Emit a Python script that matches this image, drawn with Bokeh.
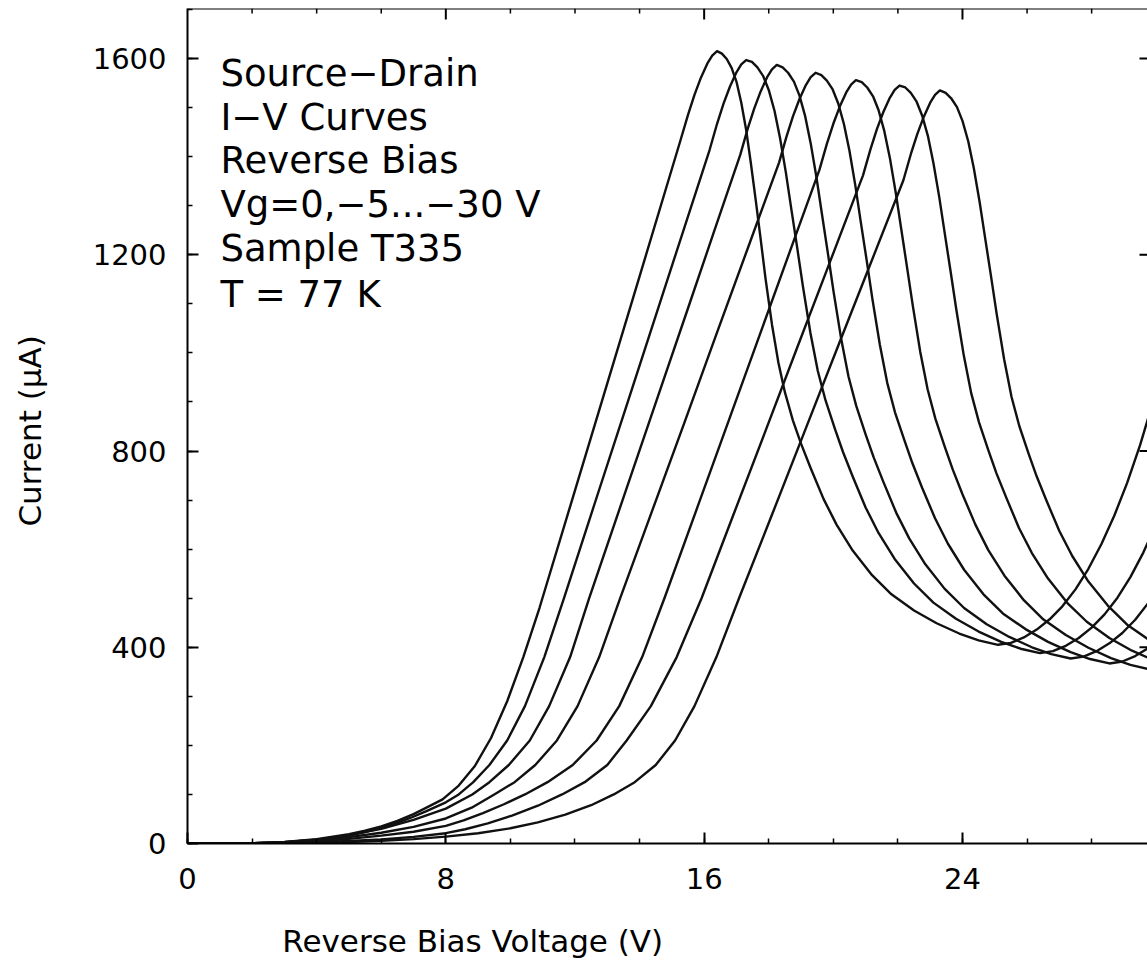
from bokeh.plotting import figure
from bokeh.layouts import column
from bokeh.models import Range1d, SingleIntervalTicker, Label, Span
from bokeh.embed import file_html
from bokeh.resources import INLINE

# ---------------- data ----------------
gate_voltages = [0, -5, -10, -15, -20, -25, -30]

# Vg = 0 V
V_0 = [0, 1, 2, 3, 4, 5, 5.5, 6.0, 6.5, 7.0, 7.4, 7.9, 8.4, 8.9, 9.4, 9.9, 10.4, 10.9, 11.9, 12.9, 13.9, 15.27,
       15.5, 15.7, 15.9, 16.1, 16.25, 16.4, 16.55, 16.7, 16.85, 17.0, 17.15, 17.3, 17.45, 17.6, 17.75, 17.9,
       18.1, 18.3, 18.5, 18.75, 19.0, 19.3, 19.7, 20.1, 20.6, 21.2, 21.8, 22.5, 23.2, 23.9, 24.5, 25.1,
       25.5, 25.9, 26.3, 26.7, 27.1, 27.5, 27.9, 28.3, 28.7, 29.1, 29.5, 29.9, 30.0]
I_0 = [0, 0, 0.5, 3, 9, 19, 26, 35, 46, 60, 73, 90, 118, 158, 215, 290, 380, 480, 698, 916, 1134, 1434,
       1485, 1526, 1561, 1590, 1606, 1615, 1610, 1599, 1581, 1553, 1510, 1455, 1385, 1310, 1232, 1152,
       1058, 980, 920, 862, 815, 765, 702, 650, 597, 547, 508, 475, 449, 428, 414, 405,
       409, 420, 436, 457, 484, 518, 560, 610, 668, 735, 812, 900, 922]

# Vg = -5 V
V_5 = [0, 1, 2, 3, 4, 5, 5.4, 5.9, 6.4, 6.9, 7.4, 8.0, 8.4, 8.85, 9.35, 9.9, 10.45, 11.05, 11.66, 12.6,
       13.6, 14.6, 15.4, 16.17, 16.4, 16.6, 16.8, 17.0, 17.15, 17.3,
       17.48, 17.65, 17.83, 18.0, 18.18, 18.35, 18.53, 18.7, 18.88, 19.06, 19.29, 19.52, 19.76, 20.05,
       20.3, 20.6, 21.0, 21.4, 21.9, 22.5, 23.1, 23.8, 24.5, 25.2, 25.8, 26.4, 26.8, 27.2, 27.6, 28.0,
       28.4, 28.8, 29.2, 29.6, 30.0]
I_5 = [0, 0, 0.5, 2.7, 8, 16, 22, 30, 40, 52, 66, 84, 100, 125, 160, 210, 280, 380, 500, 691,
       893, 1096, 1258, 1414, 1467, 1508, 1543, 1572, 1588, 1597,
       1593, 1582, 1564, 1536, 1493, 1438, 1368, 1293, 1215, 1135, 1041, 963, 903, 845,
       798, 748, 685, 633, 580, 530, 491, 458, 432, 411, 397, 388, 392, 403, 419, 440,
       467, 501, 543, 593, 651]

# Vg = -10 V
V_10 = [0, 1, 2, 3, 4, 5, 6, 7, 8, 8.82, 9.35, 9.95, 10.6, 11.2, 11.85, 12.44, 13.5, 14.5, 15.5, 16.3,
        17.12, 17.35, 17.55, 17.75, 17.95, 18.1, 18.25,
        18.43, 18.6, 18.78, 18.95, 19.13, 19.3, 19.48, 19.65, 19.83, 20.01, 20.24, 20.47, 20.71, 21.0,
        21.25, 21.55, 21.95, 22.35, 22.85, 23.45, 24.05, 24.75, 25.45, 26.15, 26.75, 27.35, 27.75, 28.15,
        28.55, 28.95, 29.35, 29.75, 30.15]
I_10 = [0, 0, 0.5, 2.5, 8, 17, 30, 48, 71, 100, 125, 160, 210, 280, 380, 500, 705, 898, 1091, 1246,
        1404, 1457, 1498, 1533, 1562, 1578, 1587,
        1582, 1571, 1553, 1525, 1482, 1427, 1357, 1282, 1204, 1124, 1030, 952, 892, 834,
        787, 737, 674, 622, 569, 519, 480, 447, 421, 400, 386, 377, 381, 392,
        408, 429, 456, 490, 532]

# Vg = -15 V
V_15 = [0, 1, 2, 3, 4, 5, 6, 7, 8, 8.8, 9.5, 10.13, 10.77, 11.44, 12.08, 12.75, 13.4, 14.4, 15.4, 16.4,
        17.4, 18.32, 18.55, 18.75, 18.95, 19.15, 19.3, 19.45,
        19.63, 19.8, 19.98, 20.15, 20.33, 20.5, 20.68, 20.85, 21.03, 21.21, 21.44, 21.67, 21.91, 22.2,
        22.45, 22.75, 23.15, 23.55, 24.05, 24.65, 25.25, 25.95, 26.65, 27.35, 27.95, 28.55, 28.95, 29.35,
        29.75, 30.15]
I_15 = [0, 0, 0.4, 2, 6, 13, 22, 34, 51, 73, 100, 125, 160, 210, 280, 380, 500, 680, 860, 1042,
        1222, 1388, 1441, 1482, 1517, 1546, 1562, 1571,
        1566, 1555, 1537, 1509, 1466, 1412, 1342, 1267, 1190, 1110, 1017, 939, 879, 822,
        775, 725, 663, 611, 558, 508, 469, 437, 411, 390, 376, 367, 371, 382,
        398, 419]

# Vg = -20 V
V_20 = [0, 1, 2, 3, 4, 5, 6, 7, 8, 8.55, 9.15, 9.8, 10.45, 11.15, 11.93, 12.67, 13.37, 14.08, 14.77, 15.8,
        16.8, 17.8, 18.7, 19.57, 19.8, 20.0, 20.2, 20.4, 20.55, 20.7,
        20.88, 21.05, 21.23, 21.4, 21.58, 21.75, 21.93, 22.1, 22.28, 22.46, 22.69, 22.92, 23.16, 23.45,
        23.7, 24.0, 24.4, 24.8, 25.3, 25.9, 26.5, 27.2, 27.9, 28.6, 29.2, 29.8, 30.2]
I_20 = [0, 0, 0.3, 1.5, 4.5, 9.5, 16, 24, 36, 47, 62, 80, 100, 125, 160, 210, 280, 380, 500, 687,
        869, 1051, 1215, 1373, 1426, 1467, 1502, 1531, 1547, 1556,
        1552, 1541, 1523, 1495, 1452, 1398, 1328, 1254, 1176, 1097, 1003, 926, 866, 809,
        762, 712, 650, 598, 546, 496, 457, 425, 399, 378, 364, 355, 359]

# Vg = -25 V
V_25 = [0, 1, 2, 3, 4, 5, 6, 7, 8, 8.6, 9.3, 10.05, 10.85, 11.6, 12.3, 13.0, 13.6, 14.35, 15.15, 15.92,
        16.9, 17.9, 18.9, 19.9, 20.92, 21.15, 21.35, 21.55, 21.75, 21.9, 22.05,
        22.23, 22.4, 22.58, 22.75, 22.93, 23.1, 23.28, 23.45, 23.63, 23.81, 24.04, 24.27, 24.51, 24.8,
        25.05, 25.35, 25.75, 26.15, 26.65, 27.25, 27.85, 28.55, 29.25, 29.95]
I_25 = [0, 0, 0.2, 0.8, 2.5, 5, 8.5, 13.5, 21, 29, 41, 57, 77, 100, 125, 160, 210, 280, 380, 500,
        669, 841, 1014, 1186, 1362, 1415, 1456, 1491, 1520, 1536, 1545,
        1541, 1530, 1512, 1484, 1442, 1387, 1318, 1244, 1167, 1088, 995, 918, 859, 802,
        755, 706, 643, 592, 540, 490, 452, 419, 393, 373]

# Vg = -30 V
V_30 = [0, 1, 2, 3, 4, 5, 6, 7, 8, 9, 10, 10.85, 11.7, 12.5, 13.2, 13.85, 14.5, 15.1, 15.7, 16.38,
        17.08, 18.1, 19.1, 20.1, 21.1, 22.17, 22.4, 22.6, 22.8, 23.0, 23.15, 23.3,
        23.48, 23.65, 23.83, 24.0, 24.18, 24.35, 24.53, 24.7, 24.88, 25.06, 25.29, 25.52, 25.76, 26.05,
        26.3, 26.6, 27.0, 27.4, 27.9, 28.5, 29.1, 29.8, 30.5]
I_30 = [0, 0, 0.1, 0.5, 1.5, 3, 5.5, 9, 14, 21, 31, 43, 59, 78, 100, 125, 160, 210, 280, 380,
        500, 670, 838, 1006, 1173, 1352, 1405, 1446, 1481, 1510, 1526, 1535,
        1530, 1519, 1501, 1473, 1431, 1377, 1308, 1235, 1158, 1079, 987, 910, 851, 794,
        748, 699, 637, 586, 534, 485, 446, 414, 388]

curves_v = [V_0, V_5, V_10, V_15, V_20, V_25, V_30]
curves_i = [I_0, I_5, I_10, I_15, I_20, I_25, I_30]

info_lines = ["Source\u2212Drain", "I\u2212V  Curves", "Reverse  Bias",
              "Vg=0,\u22125...\u221230  V", "Sample  T335", "T  =  77  K"]
x_label = "Reverse  Bias  Voltage  (V)"
y_label = "Current  (\u03bcA)"

# tick values for the top and right frame edges
top_minor_ticks = [2, 4, 6, 10, 12, 14, 18, 20, 22, 26, 28]
top_major_ticks = [8, 16, 24]
right_major_ticks = [400, 800, 1200, 1600]

# ---------------- main figure ----------------
FONT = "DejaVu Sans"
X_END = 29.73
Y_END = 1702
PX_PER_Y = 835.0 / Y_END
PX_PER_X = 960.0 / X_END
LEFT = 187

p = figure(width=1147, height=920, x_range=Range1d(0, X_END), y_range=Range1d(0, Y_END),
           output_backend="svg", toolbar_location=None,
           min_border_left=LEFT, min_border_right=0, min_border_top=8, min_border_bottom=77)
p.outline_line_color = None
p.xgrid.visible = False
p.ygrid.visible = False
p.background_fill_color = "white"
p.border_fill_color = "white"


def style_axis(ax):
    ax.axis_line_width = 2
    ax.axis_line_color = "black"
    ax.major_tick_in = 11
    ax.major_tick_out = 0
    ax.minor_tick_in = 5
    ax.minor_tick_out = 0
    ax.major_tick_line_width = 2
    ax.minor_tick_line_width = 1.5
    ax.major_tick_line_color = "black"
    ax.minor_tick_line_color = "black"
    ax.major_label_text_font = FONT
    ax.major_label_text_font_size = "29px"
    ax.major_label_text_color = "black"


bx = p.xaxis[0]
bx.ticker = SingleIntervalTicker(interval=8, num_minor_ticks=4)
style_axis(bx)
bx.major_label_standoff = 24

ly = p.yaxis[0]
ly.ticker = SingleIntervalTicker(interval=400, num_minor_ticks=4)
style_axis(ly)
ly.major_label_standoff = 21
ly.axis_label = y_label
ly.axis_label_text_font = FONT
ly.axis_label_text_font_size = "31px"
ly.axis_label_text_font_style = "normal"
ly.axis_label_text_color = "black"
ly.axis_label_standoff = 42

# top frame line and its inward ticks, right-edge ticks
p.add_layout(Span(location=Y_END, dimension="width", line_color="black", line_width=2))
p.segment(x0=top_minor_ticks, y0=[Y_END] * len(top_minor_ticks), x1=top_minor_ticks,
          y1=[Y_END - 5 / PX_PER_Y] * len(top_minor_ticks), line_color="black", line_width=1.5)
p.segment(x0=top_major_ticks, y0=[Y_END] * len(top_major_ticks), x1=top_major_ticks,
          y1=[Y_END - 11 / PX_PER_Y] * len(top_major_ticks), line_color="black", line_width=2)
p.segment(x0=[X_END] * len(right_major_ticks), y0=right_major_ticks,
          x1=[X_END - 8 / PX_PER_X] * len(right_major_ticks), y1=right_major_ticks,
          line_color="black", line_width=2)

for vs, cs in zip(curves_v, curves_i):
    p.line(vs, cs, line_color="#111111", line_width=2.4, line_join="round")

# info text block
baselines = [1570, 1480, 1392, 1302, 1212, 1120]
for txt, yb in zip(info_lines, baselines):
    p.add_layout(Label(x=1.02, y=yb, text=txt, text_font=FONT, text_font_size="37px",
                       text_color="black", text_baseline="alphabetic", text_align="left"))

# ---------------- strip below holding the x-axis title ----------------
p2 = figure(width=1147, height=40, x_range=Range1d(LEFT, 1147), y_range=Range1d(0, 40),
            output_backend="svg", toolbar_location=None,
            x_axis_location=None, y_axis_location=None,
            min_border_left=LEFT, min_border_right=0, min_border_top=0, min_border_bottom=0)
p2.xgrid.visible = False
p2.ygrid.visible = False
p2.outline_line_color = None
p2.background_fill_color = "white"
p2.border_fill_color = "white"
p2.add_layout(Label(x=487, y=20, text=x_label, text_font=FONT, text_font_size="31px",
                    text_color="black", text_baseline="middle", text_align="center"))

layout = column(p, p2, spacing=0)
open("out.html", "w").write(file_html(layout, INLINE))
